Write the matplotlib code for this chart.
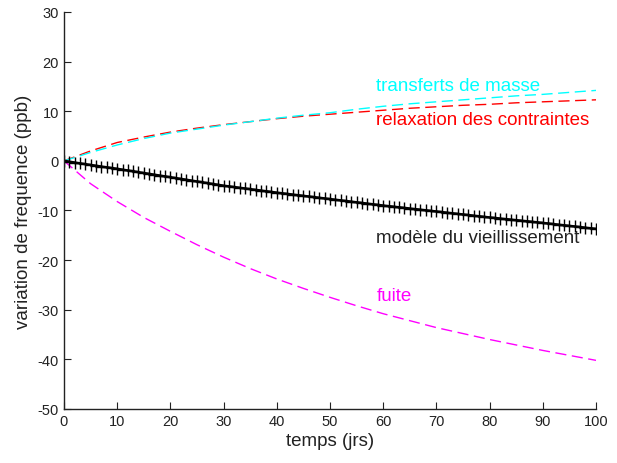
import matplotlib
matplotlib.use("Agg")
import matplotlib.pyplot as plt
import numpy as np

plt.rcParams['font.family'] = ['Liberation Sans', 'DejaVu Sans']
plt.rcParams['axes.unicode_minus'] = False

# Data
t_days = list(range(0, 101))
vieillissement = [
    0, -0.17, -0.33, -0.5, -0.66, -0.82, -0.98, -1.14, -1.29, -1.45, -1.6,
    -1.77, -1.94, -2.11, -2.28, -2.45, -2.62, -2.79, -2.96, -3.13, -3.3,
    -3.47, -3.64, -3.81, -3.98, -4.15, -4.32, -4.49, -4.66, -4.83, -5.0,
    -5.14, -5.28, -5.42, -5.56, -5.7, -5.84, -5.98, -6.12, -6.26, -6.4,
    -6.53, -6.66, -6.79, -6.92, -7.05, -7.18, -7.31, -7.44, -7.57, -7.7,
    -7.83, -7.96, -8.09, -8.22, -8.35, -8.48, -8.61, -8.74, -8.87, -9.0,
    -9.12, -9.24, -9.36, -9.48, -9.6, -9.72, -9.84, -9.96, -10.08, -10.2,
    -10.32, -10.44, -10.56, -10.68, -10.8, -10.92, -11.04, -11.16, -11.28, -11.4,
    -11.51, -11.62, -11.73, -11.84, -11.95, -12.06, -12.17, -12.28, -12.39, -12.5,
    -12.62, -12.74, -12.86, -12.98, -13.1, -13.22, -13.34, -13.46, -13.58, -13.7,
]

t5 = [0, 5, 10, 15, 20, 25, 30, 35, 40, 45, 50, 55, 60, 65, 70, 75, 80, 85, 90, 95, 100]
fuite = [0, -4.6, -8.2, -11.4, -14.2, -16.9, -19.4, -21.7, -23.8, -25.7, -27.5,
         -29.2, -30.8, -32.2, -33.6, -34.8, -36.0, -37.1, -38.2, -39.2, -40.2]
transferts = [0, 1.7, 3.2, 4.5, 5.6, 6.4, 7.2, 7.9, 8.6, 9.2, 9.7,
              10.4, 11.0, 11.5, 11.9, 12.3, 12.7, 13.1, 13.4, 13.8, 14.2]
relaxation = [0, 2.0, 3.7, 4.8, 5.8, 6.6, 7.3, 7.9, 8.5, 9.0, 9.4,
              9.8, 10.2, 10.6, 10.9, 11.2, 11.4, 11.7, 11.9, 12.1, 12.3]

xticks = list(range(0, 101, 10))
yticks = list(range(-50, 31, 10))

fig = plt.figure(figsize=(6.17, 4.64), dpi=100)
ax = fig.add_axes([0.1037, 0.1164, 0.966 - 0.1037, 0.972 - 0.1164])

dash = (0, (8, 4))
ax.plot(t5, relaxation, color='#ff0000', linestyle=dash, linewidth=1.0)
ax.plot(t5, transferts, color='#00ffff', linestyle=dash, linewidth=1.0)
ax.plot(t5, fuite, color='#ff00ff', linestyle=dash, linewidth=1.0)
ax.plot(t_days, vieillissement, color='black', linewidth=1.8, marker='+',
        markersize=8, markeredgewidth=1.0)

ax.set_xlim(0, 100)
ax.set_ylim(-50, 30)
ax.set_xticks(xticks)
ax.set_yticks(yticks)
ax.tick_params(direction='in', length=5, labelsize=10.5, colors='#222222')
for s in ['top', 'right']:
    ax.spines[s].set_visible(False)
for s in ['left', 'bottom']:
    ax.spines[s].set_color('#222222')
    ax.spines[s].set_linewidth(1.0)

ax.set_xlabel('temps (jrs)', fontsize=13.5, color='#222222', labelpad=3)
ax.set_ylabel('variation de frequence (ppb)', fontsize=13.5, color='#222222', labelpad=4)

fs = 13.5
ax.text(58.7, 15.1, 'transferts de masse', color='#00ffff', fontsize=fs, va='center', ha='left')
ax.text(58.7, 8.4, 'relaxation des contraintes', color='#ff0000', fontsize=fs, va='center', ha='left')
ax.text(58.7, -15.5, 'modèle du vieillissement', color='#222222', fontsize=fs, va='center', ha='left')
ax.text(58.7, -27.2, 'fuite', color='#ff00ff', fontsize=fs, va='center', ha='left')

fig.savefig('out.png', dpi=100)
